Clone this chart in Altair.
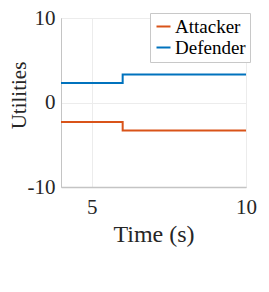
import altair as alt
import pandas as pd

times = [4, 6, 10]
attacker = [-2.3, -3.3, -3.3]
defender = [2.3, 3.3, 3.3]
series = ["Attacker", "Defender"]
colors = ["#D95319", "#0072BD"]
x_ticks = [5, 10]
y_ticks = [-10, 0, 10]

rows = []
for t, a, d in zip(times, attacker, defender):
    rows.append({"t": t, "u": a, "s": "Attacker"})
    rows.append({"t": t, "u": d, "s": "Defender"})
df = pd.DataFrame(rows)

FONT = "Liberation Serif"
TXT = "#262626"
AXC = "#c4c4c4"

chart = alt.Chart(df).mark_line(interpolate="step-after", strokeWidth=2, clip=True).encode(
    x=alt.X("t:Q",
            scale=alt.Scale(domain=[4, 10], nice=False, zero=False),
            axis=alt.Axis(values=x_ticks, title="Time (s)", labelFontSize=21, labelFont=FONT,
                          labelFontWeight="normal", labelExpr="'' + datum.value",
                          labelColor=TXT, labelPadding=9, labelFlush=False, labelOverlap=False,
                          ticks=False, domainColor=AXC, domainWidth=1.5, grid=True,
                          gridColor="#ececec", titleFont=FONT, titleFontSize=24, titleColor=TXT,
                          titleFontWeight="normal", titleBaseline="alphabetic", titleY=54)),
    y=alt.Y("u:Q",
            scale=alt.Scale(domain=[-10, 10], nice=False, zero=False),
            axis=alt.Axis(values=y_ticks, title="Utilities", labelFontSize=21, labelFont=FONT,
                          labelFontWeight="normal", labelExpr="'' + datum.value",
                          labelColor=TXT, labelPadding=6, labelFlush=False, labelOverlap=False,
                          ticks=False, domainColor=AXC, domainWidth=1, grid=True,
                          gridColor="#ececec", titleFont=FONT, titleFontSize=21, titleColor=TXT,
                          titleFontWeight="normal", titleBaseline="alphabetic", titleAngle=270,
                          titleAlign="center", titleX=-36, titleY=77)),
    color=alt.Color("s:N",
                    scale=alt.Scale(domain=series, range=colors),
                    legend=alt.Legend(title=None, orient="none", legendX=89, legendY=-5,
                                      symbolType="stroke", symbolSize=196, symbolStrokeWidth=2,
                                      labelFont=FONT, labelFontSize=19, labelColor="#000000",
                                      labelFontWeight="normal",
                                      labelOffset=2, rowPadding=1, padding=4,
                                      strokeColor="#c8c8c8", fillColor="white", cornerRadius=0)),
).properties(
    width=185,
    height=169,
    autosize=alt.AutoSizeParams(type="none"),
    padding={"left": 53, "top": 10, "right": 15, "bottom": 60},
).configure(font=FONT
).configure_view(stroke=AXC, strokeWidth=1
).configure_axis(labelFont=FONT, titleFont=FONT
).configure_legend(labelFont=FONT)

chart.save("out.html", embed_options={"renderer": "svg", "actions": False})
